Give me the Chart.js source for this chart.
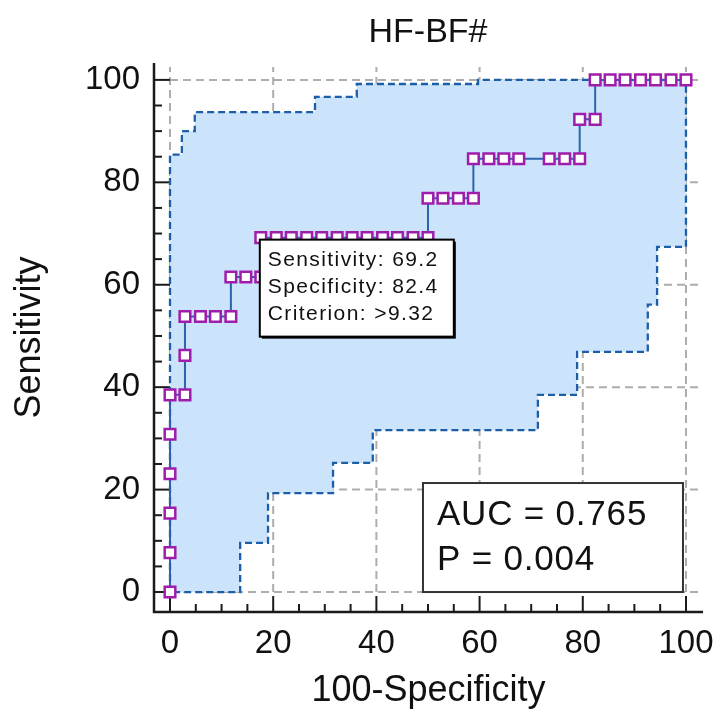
<!DOCTYPE html>
<html>
<head>
<meta charset="utf-8">
<title>HF-BF# ROC</title>
<script src="https://cdn.jsdelivr.net/npm/chart.js@4.4.1/dist/chart.umd.min.js"></script>
<style>
  html, body { margin: 0; padding: 0; background: #fff; }
  canvas { display: block; }
</style>
</head>
<body>
<canvas id="roc_chart" width="716" height="718"></canvas>
<script>
// ROC curve points: 100-Specificity (x) and Sensitivity (y)
var rocX = [0, 0, 0, 0, 0, 0, 2.9, 2.9, 2.9, 5.9, 8.8, 11.8, 11.8, 14.7, 17.6, 17.6,
            20.6, 23.5, 26.5, 29.4, 32.4, 35.3, 38.2, 41.2, 44.1, 47.1, 50.0, 50.0,
            52.9, 55.9, 58.8, 58.8, 61.8, 64.7, 67.6, 73.5, 76.5, 79.4, 79.4, 82.4,
            82.4, 85.3, 88.2, 91.2, 94.1, 97.1, 100];
var rocY = [0, 7.7, 15.4, 23.1, 30.8, 38.5, 38.5, 46.2, 53.8, 53.8, 53.8, 53.8, 61.5, 61.5, 61.5, 69.2,
            69.2, 69.2, 69.2, 69.2, 69.2, 69.2, 69.2, 69.2, 69.2, 69.2, 69.2, 76.9,
            76.9, 76.9, 76.9, 84.6, 84.6, 84.6, 84.6, 84.6, 84.6, 84.6, 92.3, 92.3,
            100, 100, 100, 100, 100, 100, 100];

// 95% confidence band outline: upper edge out to (100,100), lower edge back to origin
var bandX = [0, 0, 2.3, 2.3, 4.8, 4.8, 28.1, 28.1, 36.2, 36.2, 59.7, 59.7, 100,
             100, 94.4, 94.4, 92.6, 92.6, 78.9, 78.9, 71.3, 71.3, 39.3, 39.3, 31.6, 31.6,
             19.0, 19.0, 13.6, 13.6, 0];
var bandY = [0, 85.4, 85.4, 90.0, 90.0, 93.7, 93.7, 96.7, 96.7, 99.2, 99.2, 100, 100,
             67.4, 67.4, 56.1, 56.1, 46.9, 46.9, 38.5, 38.5, 31.6, 31.6, 25.2, 25.2, 19.3,
             19.3, 9.6, 9.6, 0, 0];

var tickValues = [0, 20, 40, 60, 80, 100];
var minorTicks = [5, 10, 15, 25, 30, 35, 45, 50, 55, 65, 70, 75, 85, 90, 95];

var chartTitle = 'HF-BF#';
var cutoff = { x: 17.6, y: 69.2 };
var cutoffLines = ['Sensitivity: 69.2', 'Specificity: 82.4', 'Criterion: >9.32'];
var statLines = ['AUC = 0.765', 'P = 0.004'];

var fontFamily = '"Liberation Sans", Arial, sans-serif';

function toPoints(xs, ys) {
  return xs.map(function (x, i) { return { x: x, y: ys[i] }; });
}

// grid, axis lines and inward tick marks
var frame = {
  id: 'frame',
  beforeDatasetsDraw: function (chart) {
    var ctx = chart.ctx, xs = chart.scales.x, ys = chart.scales.y;
    var x0 = xs.getPixelForValue(0), xEnd = xs.getPixelForValue(102.5);
    var y0 = ys.getPixelForValue(0), yEnd = ys.getPixelForValue(102.5);
    ctx.save();
    ctx.strokeStyle = '#adadad';
    ctx.lineWidth = 2;
    ctx.setLineDash([8, 5]);
    tickValues.forEach(function (v) {
      var px = xs.getPixelForValue(v), py = ys.getPixelForValue(v);
      ctx.beginPath(); ctx.moveTo(px, y0); ctx.lineTo(px, yEnd); ctx.stroke();
      ctx.beginPath(); ctx.moveTo(x0, py); ctx.lineTo(xEnd, py); ctx.stroke();
    });
    ctx.setLineDash([]);

    var left = xs.left, bottom = ys.bottom;
    ctx.strokeStyle = '#1a1a1a';
    ctx.lineWidth = 2.5;
    ctx.beginPath();
    ctx.moveTo(left, ys.top);
    ctx.lineTo(left, bottom);
    ctx.lineTo(xs.right, bottom);
    ctx.stroke();

    ctx.lineWidth = 2;
    function tick(v, len) {
      var px = xs.getPixelForValue(v), py = ys.getPixelForValue(v);
      ctx.beginPath(); ctx.moveTo(px, bottom); ctx.lineTo(px, bottom - len); ctx.stroke();
      ctx.beginPath(); ctx.moveTo(left, py); ctx.lineTo(left + len, py); ctx.stroke();
    }
    tickValues.forEach(function (v) { tick(v, 16); });
    minorTicks.forEach(function (v) { tick(v, 8); });
    ctx.restore();
  },
  afterDatasetsDraw: function (chart) {
    var ctx = chart.ctx, xs = chart.scales.x, ys = chart.scales.y;
    ctx.save();

    // cut-off point label box
    var bx = xs.getPixelForValue(cutoff.x) - 1;
    var by = ys.getPixelForValue(cutoff.y) + 2;
    var bw = 194, bh = 97;
    ctx.fillStyle = '#000';
    ctx.fillRect(bx + 2, by + 2, bw, bh);
    ctx.fillStyle = '#fff';
    ctx.fillRect(bx, by, bw, bh);
    ctx.strokeStyle = '#000';
    ctx.lineWidth = 2;
    ctx.strokeRect(bx, by, bw, bh);
    ctx.fillStyle = '#111';
    ctx.font = '21px ' + fontFamily;
    ctx.letterSpacing = '1.4px';
    ctx.textBaseline = 'alphabetic';
    ctx.textAlign = 'left';
    cutoffLines.forEach(function (t, i) {
      ctx.fillText(t, bx + 8, by + 26 + i * 27);
    });

    // AUC box in lower right corner
    var sw = 260, sh = 109;
    var sx = xs.getPixelForValue(100) - 3 - sw;
    var sy = ys.getPixelForValue(0) - sh;
    ctx.fillStyle = '#fff';
    ctx.fillRect(sx, sy, sw, sh);
    ctx.strokeStyle = '#333';
    ctx.lineWidth = 2;
    ctx.strokeRect(sx, sy, sw, sh);
    ctx.fillStyle = '#111';
    ctx.font = '35px ' + fontFamily;
    ctx.letterSpacing = '0.8px';
    statLines.forEach(function (t, i) {
      ctx.fillText(t, sx + 14, sy + 42 + i * 45);
    });

    // title centred over the plot
    ctx.letterSpacing = '0px';
    ctx.font = '34px ' + fontFamily;
    ctx.textAlign = 'center';
    ctx.fillText(chartTitle, xs.getPixelForValue(50), 42);
    ctx.restore();
  }
};

var ctx = document.getElementById('roc_chart').getContext('2d');
new Chart(ctx, {
  type: 'scatter',
  data: {
    datasets: [
      {
        label: 'ROC',
        data: toPoints(rocX, rocY),
        showLine: true,
        borderColor: '#2a64ad',
        borderWidth: 2,
        pointStyle: 'rect',
        pointRadius: 7.5,
        pointBorderWidth: 2.5,
        pointBorderColor: '#a01cab',
        pointBackgroundColor: '#fff',
        fill: false
      },
      {
        label: '95% CI',
        data: toPoints(bandX, bandY),
        showLine: true,
        borderColor: '#1c5ea8',
        borderWidth: 2.3,
        borderDash: [7, 4],
        backgroundColor: 'rgb(204, 228, 251)',
        pointRadius: 0,
        fill: 'shape'
      }
    ]
  },
  options: {
    responsive: false,
    animation: false,
    layout: { padding: { top: 63, right: 13, left: 0, bottom: 0 } },
    plugins: {
      legend: { display: false },
      tooltip: { enabled: false }
    },
    scales: {
      x: {
        type: 'linear',
        min: -3.1,
        max: 103.3,
        afterFit: function (scale) {
          scale.height = 106;
          scale.paddingLeft = 0;
          scale.paddingRight = 0;
        },
        afterBuildTicks: function (scale) {
          scale.ticks = tickValues.map(function (v) { return { value: v }; });
        },
        grid: { display: false, drawTicks: false },
        border: { display: false },
        ticks: {
          padding: 12,
          color: '#111',
          maxRotation: 0,
          font: { family: fontFamily, size: 33 }
        },
        title: {
          display: true,
          text: '100-Specificity',
          color: '#111',
          padding: { top: 0, bottom: 5 },
          font: { family: fontFamily, size: 36 }
        }
      },
      y: {
        type: 'linear',
        min: -3.9,
        max: 103.3,
        afterFit: function (scale) {
          scale.width = 154;
          scale.paddingTop = 0;
          scale.paddingBottom = 0;
        },
        afterBuildTicks: function (scale) {
          scale.ticks = tickValues.map(function (v) { return { value: v }; });
        },
        grid: { display: false, drawTicks: false },
        border: { display: false },
        ticks: {
          padding: 14,
          color: '#111',
          font: { family: fontFamily, size: 33 }
        },
        title: {
          display: true,
          text: 'Sensitivity',
          color: '#111',
          padding: { top: 8, bottom: 0 },
          font: { family: fontFamily, size: 36 }
        }
      }
    }
  },
  plugins: [frame]
});
</script>
</body>
</html>
